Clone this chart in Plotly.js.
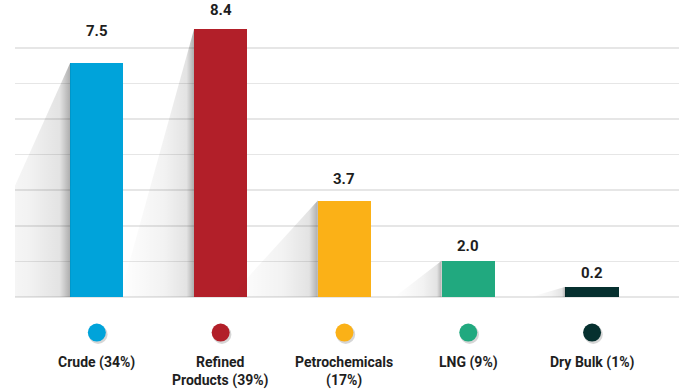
<!DOCTYPE html>
<html>
<head>
<meta charset="utf-8">
<script src="https://cdn.plot.ly/plotly-3.0.1.min.js"></script>
<style>html,body{margin:0;padding:0;background:#fff;}#chart{width:694px;height:391px;}</style>
</head>
<body>
<div id="chart"></div>
<script>
// Data
const categories = ["Crude (34%)", "Refined<br>Products (39%)", "Petrochemicals<br>(17%)", "LNG (9%)", "Dry Bulk (1%)"];
const valueLabels = ["7.5", "8.4", "3.7", "2.0", "0.2"];
// bar heights as drawn in the picture, in gridline units
const barHeights = [6.58, 7.52, 2.71, 1.02, 0.29];
const barColors = ["#00a3da", "#b21f29", "#fbb117", "#21a97f", "#06302f"];

// Styles
const labelGapPx = [21, 8, 11, 4, 3];
const shadowReach = [0.85, 0.6, 0.71, 0.38, 0.28]; // x-units leftward at baseline
const barWidth = 0.43;
const xs = categories.map((_, i) => i);

const traces = [];
// shadows
xs.forEach((x, i) => {
  const left = x - barWidth / 2;
  traces.push({
    type: 'scatter', mode: 'lines', hoverinfo: 'skip', showlegend: false,
    x: [left, left - shadowReach[i], left, left],
    y: [barHeights[i], 0, 0, barHeights[i]],
    fill: 'toself', line: {width: 0, color: 'rgba(0,0,0,0)'},
    fillgradient: {type: 'horizontal', colorscale: [[0, 'rgba(0,0,0,0)'], [0.6, 'rgba(0,0,0,0.05)'], [0.9, 'rgba(0,0,0,0.11)'], [1, 'rgba(0,0,0,0.32)']]}
  });
});
// dot shadows
traces.push({
  type: 'scatter', mode: 'markers', hoverinfo: 'skip', showlegend: false,
  x: xs.map(x => x + 0.01), y: xs.map(() => -1.05),
  marker: {size: 19, color: 'rgba(0,0,0,0.16)', line: {width: 0}}
});
// bars
traces.push({
  type: 'bar', x: xs, y: barHeights, width: barWidth,
  marker: {color: barColors, line: {width: 0}},
  hoverinfo: 'skip', showlegend: false
});
// legend dots
traces.push({
  type: 'scatter', mode: 'markers', hoverinfo: 'skip', showlegend: false,
  x: xs, y: xs.map(() => -1),
  marker: {size: 18, color: barColors, line: {width: 0}}
});

const annotations = [];
xs.forEach((x, i) => {
  annotations.push({
    x: x, y: barHeights[i], xref: 'x', yref: 'y', text: valueLabels[i],
    showarrow: false, yanchor: 'bottom', yshift: labelGapPx[i],
    font: {family: 'Roboto', size: 15, color: '#1e1e1e', weight: 700}
  });
  annotations.push({
    x: x, y: -1, xref: 'x', yref: 'y', text: '<b>' + categories[i] + '</b>',
    showarrow: false, yanchor: 'top', yshift: -19, align: 'center',
    font: {family: 'Roboto', size: 14, color: '#1e1e1e'}
  });
});

const layout = {
  width: 694, height: 391,
  margin: {l: 15, r: 15, t: 0, b: 0},
  paper_bgcolor: '#ffffff', plot_bgcolor: 'rgba(0,0,0,0)',
  showlegend: false,
  xaxis: {range: [-0.661, 4.702], showgrid: false, zeroline: false, showticklabels: false, ticks: '', fixedrange: true},
  yaxis: {range: [-2.64, 8.343], tickvals: [0, 1, 2, 3, 4, 5, 6, 7], showgrid: true, gridcolor: '#e6e6e6', gridwidth: 1.5,
          zeroline: false, showticklabels: false, ticks: '', fixedrange: true},
  annotations: annotations,
  bargap: 0
};

Plotly.newPlot('chart', traces, layout, {displayModeBar: false, staticPlot: true});
</script>
</body>
</html>
